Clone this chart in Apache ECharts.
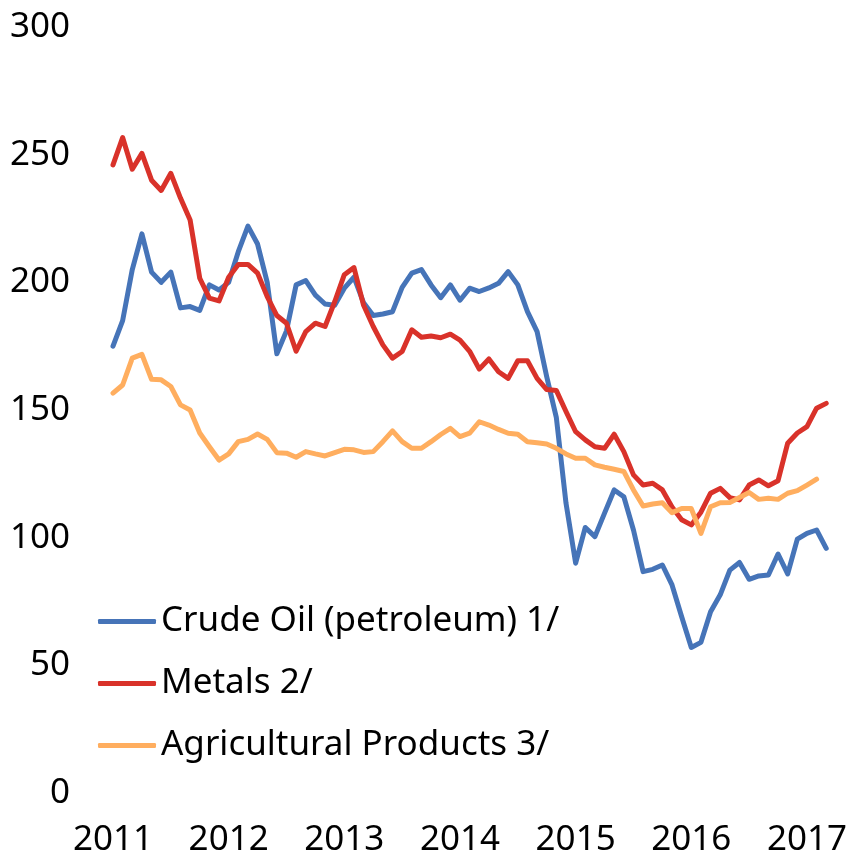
<!DOCTYPE html>
<html>
<head>
<meta charset="utf-8">
<script src="https://cdn.jsdelivr.net/npm/echarts@6/dist/echarts.min.js"></script>
<style>
  html, body { margin: 0; padding: 0; background: #fff; }
  #chart { width: 850px; height: 861px; }
</style>
</head>
<body>
<div id="chart"></div>
<script>
var years = [2011, 2012, 2013, 2014, 2015, 2016, 2017];
var yTicks = [0, 50, 100, 150, 200, 250, 300];

// monthly, Jan 2011 onwards
var crudeOil = [175, 185, 205, 219, 204, 200, 204, 190, 190.5, 189, 199, 197,
    200, 212, 222, 215, 200, 172, 181, 199, 200.7, 195, 191.5, 191,
    197.7, 202, 192, 187, 187.6, 188.5, 198, 203.6, 205, 199, 194, 199,
    193, 197.7, 196.4, 197.8, 199.6, 204.2, 199, 188.5, 180.7, 163, 147, 113.5,
    90, 104, 100.4, 109.6, 118.7, 116, 103, 86.7, 87.6, 89.3, 81.5, 69,
    57, 59, 71, 77.6, 87.3, 90.3, 83.7, 85, 85.4, 93.6, 85.8, 99.4,
    101.7, 103, 95.8];
var metals = [246, 256.7, 244.3, 250.5, 240, 236, 242.7, 233, 224.4, 201.6, 193.8, 192.7,
    202, 207, 207, 203.6, 194.4, 187, 184, 173, 180.7, 184, 182.7, 192.4,
    203, 205.8, 191, 182.7, 175.5, 170.3, 172.9, 181.4, 178.5, 179, 178.3, 179.7,
    177.4, 173, 166, 170, 165, 162.4, 169.3, 169.3, 162.4, 158, 157.6, 149.4,
    141.5, 138.3, 135.6, 135, 140.5, 133.7, 124.6, 120.6, 121.3, 118.7, 112, 107,
    105, 110, 117.4, 119.3, 115.7, 114.8, 120.6, 122.6, 120.3, 122.3, 137, 141,
    143.5, 150.7, 152.6];
var agriculture = [156.6, 159.8, 170.3, 171.8, 162, 161.8, 159.2, 152, 150, 141, 135.6, 130.4,
    132.8, 137.6, 138.5, 140.6, 138.5, 133.3, 133.1, 131.5, 133.7, 132.8, 132, 133.3,
    134.6, 134.4, 133.4, 133.7, 137.6, 141.8, 137.6, 135, 135, 137.6, 140.4, 142.8,
    139.6, 140.9, 145.4, 144.1, 142.4, 140.9, 140.5, 137.6, 137.2, 136.7, 135, 132.8,
    131.1, 131.1, 128.5, 127.6, 126.8, 125.9, 118.7, 112.4, 113.2, 113.7, 109.8, 111.4,
    111.4, 101.7, 112.1, 113.7, 113.8, 115.7, 117.7, 115, 115.4, 115, 117.4, 118.4,
    120.6, 122.9];

var months = [];
for (var i = 0; i < crudeOil.length; i++) {
    months.push(years[0] + Math.floor(i / 12) + '-' + (i % 12 + 1));
}

var chart = echarts.init(document.getElementById('chart'), null, { renderer: 'canvas' });
var font = 'Noto Sans';
var fs = 35;

function lineSeries(name, data, color) {
    return {
        name: name,
        type: 'line',
        data: data,
        showSymbol: false,
        symbol: 'none',
        lineStyle: { color: color, width: 5, join: 'round', cap: 'round' },
        itemStyle: { color: color }
    };
}

var option = {
    animation: false,
    textStyle: { fontFamily: font },
    grid: { left: 113, right: 21, top: 27, bottom: 68 },
    legend: {
        orient: 'vertical',
        left: 93,
        top: 599,
        icon: 'roundRect',
        itemWidth: 58,
        itemHeight: 5,
        itemGap: 27,
        textStyle: { fontFamily: font, fontSize: fs, color: '#000', lineHeight: 35 },
        data: ['Crude Oil (petroleum) 1/', 'Metals 2/', 'Agricultural Products 3/']
    },
    xAxis: {
        type: 'category',
        boundaryGap: false,
        data: months,
        axisLine: { show: false },
        axisTick: { show: false },
        splitLine: { show: false },
        axisLabel: {
            interval: function (idx) { return idx % 12 === 0; },
            formatter: function (v) { return v.split('-')[0]; },
            fontSize: fs,
            color: '#000',
            margin: 30,
            fontFamily: font
        }
    },
    yAxis: {
        type: 'value',
        min: yTicks[0],
        max: yTicks[yTicks.length - 1],
        interval: 50,
        axisLine: { show: false },
        axisTick: { show: false },
        splitLine: { show: false },
        axisLabel: { fontSize: fs, color: '#000', margin: 43, fontFamily: font }
    },
    series: [
        lineSeries('Crude Oil (petroleum) 1/', crudeOil, '#4674B8'),
        lineSeries('Metals 2/', metals, '#D9322A'),
        lineSeries('Agricultural Products 3/', agriculture, '#FFAE5F')
    ]
};

chart.setOption(option);
window.addEventListener('resize', function () {
    chart.resize();
});
</script>
</body>
</html>
